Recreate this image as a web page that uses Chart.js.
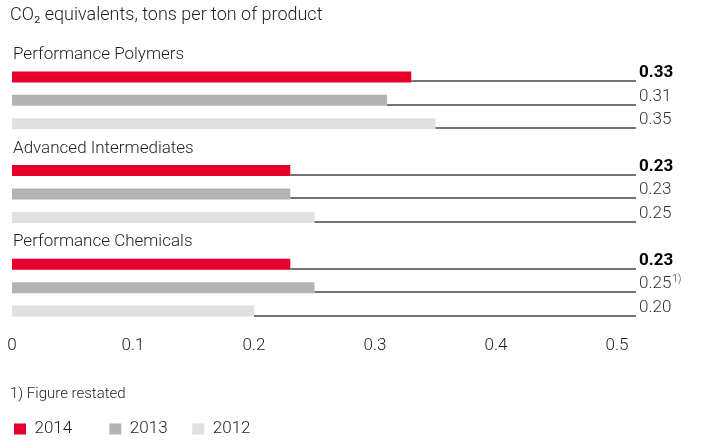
<!DOCTYPE html>
<html>
<head>
<meta charset="utf-8">
<script src="https://cdn.jsdelivr.net/npm/chart.js@4.4.1/dist/chart.umd.min.js"></script>
<style>
  html, body { margin: 0; padding: 0; background: #fff; }
  #wrap { width: 702px; height: 443px; }
</style>
</head>
<body>
<div id="wrap"><canvas id="co2Chart" width="702" height="443"></canvas></div>
<script>
// CO2 equivalents per ton of product, by segment and year
const groups = ["Performance Polymers", "Advanced Intermediates", "Performance Chemicals"];
const years = ["2014", "2013", "2012"];
const values2014 = [0.33, 0.23, 0.23];
const values2013 = [0.31, 0.23, 0.25];
const values2012 = [0.35, 0.25, 0.20];
const notes2013 = ["", "", "1)"];
const xTicks = [0, 0.1, 0.2, 0.3, 0.4, 0.5];

const colors = ["#e4002b", "#b3b3b3", "#e0e0e0"];
const FONT = "Roboto";
const TEXT = "#1e1e1e";

// line from bar end to the value column, value text on top of it
const rowLines = {
  id: "rowLines",
  afterDatasetsDraw(chart) {
    const ctx = chart.ctx;
    const x = chart.scales.x;
    const lineEnd = x.right + 19;
    chart.data.datasets.forEach((ds, di) => {
      chart.getDatasetMeta(di).data.forEach((bar, i) => {
        const yb = Math.round(bar.y + bar.height / 2) - 1;
        ctx.save();
        ctx.strokeStyle = "#444";
        ctx.lineWidth = 1.3;
        ctx.beginPath();
        ctx.moveTo(bar.x, yb);
        ctx.lineTo(lineEnd, yb);
        ctx.stroke();

        const txt = ds.data[i].toFixed(2);
        ctx.textBaseline = "alphabetic";
        ctx.textAlign = "left";
        ctx.fillStyle = di === 0 ? "#000" : "#333";
        ctx.font = (di === 0 ? "bold " : "300 ") + "17px " + FONT;
        ctx.fillText(txt, x.right + 22, yb - 4);
        if (ds.notes && ds.notes[i]) {
          const w = ctx.measureText(txt).width;
          ctx.font = "300 10px " + FONT;
          ctx.fillText(ds.notes[i], x.right + 23 + w, yb - 10);
        }
        ctx.restore();
      });
    });
  }
};

const legendPad = [8, 5, 0];

const ctx = document.getElementById("co2Chart").getContext("2d");
new Chart(ctx, {
  type: "bar",
  data: {
    labels: groups,
    datasets: [
      { label: years[0], data: values2014, backgroundColor: colors[0] },
      { label: years[1], data: values2013, backgroundColor: colors[1], notes: notes2013 },
      { label: years[2], data: values2012, backgroundColor: colors[2] }
    ]
  },
  options: {
    indexAxis: "y",
    responsive: false,
    devicePixelRatio: 1,
    animation: false,
    borderWidth: 0,
    categoryPercentage: 0.75,
    barPercentage: 0.468,
    layout: { padding: { left: 10, right: 85, top: 0, bottom: -4.5 } },
    scales: {
      x: {
        min: 0,
        max: 0.5,
        afterBuildTicks: axis => { axis.ticks = xTicks.map(v => ({ value: v })); },
        grid: { display: false, drawTicks: false },
        border: { display: false },
        ticks: {
          padding: 1,
          color: TEXT,
          font: { family: FONT, size: 17, weight: 300 },
          callback: v => String(v)
        }
      },
      y: {
        grid: { display: false, drawTicks: false },
        border: { display: false },
        ticks: {
          mirror: true,
          padding: 1,
          labelOffset: -45.5,
          color: TEXT,
          font: { family: FONT, size: 17, weight: 300 }
        }
      }
    },
    plugins: {
      title: {
        display: true,
        text: "CO\u2082 equivalents, tons per ton of product",
        align: "start",
        color: TEXT,
        font: { family: FONT, size: 18, weight: 300 },
        padding: { top: 4.2, bottom: 27.7 }
      },
      legend: {
        position: "bottom",
        align: "start",
        title: {
          display: true,
          text: "1) Figure restated",
          position: "start",
          color: TEXT,
          font: { family: FONT, size: 15, weight: 300 },
          padding: { top: 29.6, bottom: 12 }
        },
        labels: {
          boxWidth: 12,
          boxHeight: 11,
          padding: 4,
          color: TEXT,
          font: { family: FONT, size: 17, weight: 300 },
          generateLabels: chart =>
            Chart.defaults.plugins.legend.labels.generateLabels(chart).map((item, i) =>
              Object.assign(item, { text: item.text + "\u00a0".repeat(legendPad[i]), lineWidth: 0 }))
        }
      },
      tooltip: { enabled: false }
    }
  },
  plugins: [rowLines]
});
</script>
</body>
</html>
